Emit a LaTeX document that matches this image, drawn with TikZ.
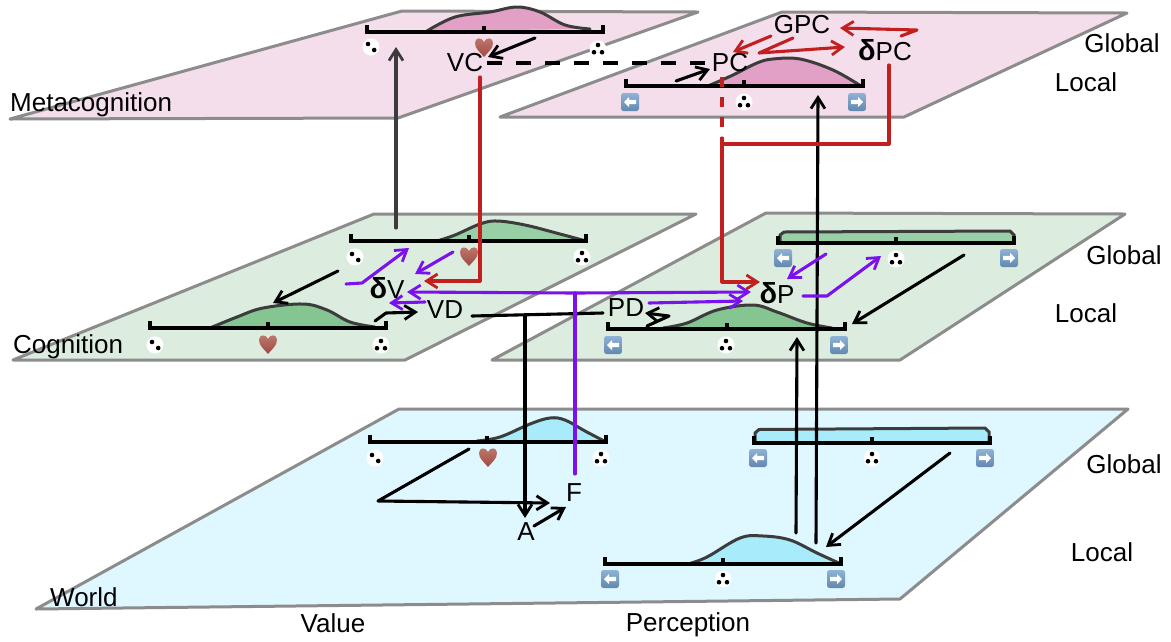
\documentclass[tikz,border=0pt]{standalone}
\usepackage{fontspec}
\setmainfont{Liberation Sans}
\usetikzlibrary{arrows.meta,calc}
\definecolor{pinkplane}{HTML}{F5DEEB}
\definecolor{pinkbump}{HTML}{E3A0C6}
\definecolor{greenplane}{HTML}{DCEDE0}
\definecolor{greenbump}{HTML}{98CFA6}
\definecolor{greenbumpb}{HTML}{85C591}
\definecolor{blueplane}{HTML}{DFF7FF}
\definecolor{bluebump}{HTML}{A8EBFA}
\definecolor{edgegrey}{HTML}{8C8C8C}
\definecolor{redline}{HTML}{C21F1F}
\definecolor{violetline}{HTML}{7B12EE}
\definecolor{curveink}{HTML}{3C3C3C}
\definecolor{hearttop}{HTML}{BE7A6E}
\definecolor{heartbot}{HTML}{A04A42}
\definecolor{btntop}{HTML}{8FB2D6}
\definecolor{btnbot}{HTML}{6288AE}
\newcommand{\deltaglyph}{{\fontsize{29}{30}\selectfont\textbf{δ}}}
\tikzset{
  plane/.style={draw=edgegrey,line width=3pt,line join=round},
  lbl/.style={font=\fontsize{26}{30}\selectfont,inner sep=4pt,text=black},
  tag/.style={font=\fontsize{26}{30}\selectfont,inner sep=0pt,text=black},
  axisink/.style={draw=black,line width=3.2pt},
  curveline/.style={draw=curveink,line width=3pt,line cap=round},
  conn/.style={line width=3.1pt,line cap=round,line join=round,-{Straight Barb[length=11pt,width=14pt,line width=2.8pt]}},
  blk/.style={conn,draw=black},
  red/.style={conn,draw=redline},
  vio/.style={conn,draw=violetline},
  plain/.style={line width=3.1pt,line cap=round,line join=round},
  dicetwo/.pic={\fill[white] (0,0) circle (8.5);\fill[black] (-3,-3) circle (2.3) (3.2,3) circle (2.3);},
  dicethree/.pic={\fill[white] (0,0) circle (8.5);\fill[black] (0,-4) circle (2.3) (-4,3.2) circle (2.3) (4,3.2) circle (2.3);},
  heartpic/.pic={\shade[top color=hearttop,bottom color=heartbot] (0,10) .. controls (-4,5) and (-9,2) .. (-9,-4) .. controls (-9,-10) and (-2,-10) .. (0,-5) .. controls (2,-10) and (9,-10) .. (9,-4) .. controls (9,2) and (4,5) .. (0,10) -- cycle;},
  leftbtn/.pic={\shade[top color=btntop,bottom color=btnbot,rounded corners=2.5pt] (-9,-9) rectangle (9,9);
     \fill[white] (-6,0) -- (-1,-5) -- (-1,-2.2) -- (6,-2.2) -- (6,2.2) -- (-1,2.2) -- (-1,5) -- cycle;},
  rightbtn/.pic={\shade[top color=btntop,bottom color=btnbot,rounded corners=2.5pt] (-9,-9) rectangle (9,9);
     \fill[white] (6,0) -- (1,-5) -- (1,-2.2) -- (-6,-2.2) -- (-6,2.2) -- (1,2.2) -- (1,5) -- cycle;},
}
\newcommand{\scaleaxis}[4]{\draw[axisink] (#1,#4-7) -- (#1,#4) -- (#2,#4) -- (#2,#4-7) (#3,#4-6) -- (#3,#4);}
\newcommand{\bumpshape}[2]{\fill[#1] plot[smooth,tension=.6] coordinates {#2} -- cycle;
  \draw[curveline] plot[smooth,tension=.6] coordinates {#2};}
\begin{document}
\begin{tikzpicture}[x=1pt,y=-1pt]
\useasboundingbox (0,0) rectangle (1171,641);
\fill[white] (0,0) rectangle (1171,641);
% planes
\draw[plane,fill=pinkplane] (10,119) -- (402,11) -- (698,12) -- (398,118) -- cycle;
\draw[plane,fill=pinkplane] (500,117) -- (782,12) -- (1127,13) -- (904,117) -- cycle;
\draw[plane,fill=greenplane] (13,360) -- (374,214) -- (696,214) -- (405,360) -- cycle;
\draw[plane,fill=greenplane] (492,360) -- (766,213) -- (1125,214) -- (900,360) -- cycle;
\draw[plane,fill=blueplane] (36,609) -- (399,409) -- (1128,409) -- (900,599) -- cycle;
% plane names
\node[tag,anchor=west] (metaname) at (10,105) {Metacognition};
\node[tag,anchor=west] (cogname) at (13,347) {Cognition};
\node[tag,anchor=west] (worldname) at (50,597) {World};
\node[tag] (valuename) at (333,623) {Value};
\node[tag] (percname) at (688,625) {Perception};
\node[tag] (g1) at (1122,43) {Global};
\node[tag] (l1) at (1086,82) {Local};
\node[tag] (g2) at (1124,255) {Global};
\node[tag] (l2) at (1086,313) {Local};
\node[tag] (g3) at (1124,464) {Global};
\node[tag] (l3) at (1102,552) {Local};
% bumps
\bumpshape{pinkbump}{(427,31) (455,17) (490,12) (517,7) (540,12) (565,25) (590,29)}
\bumpshape{pinkbump}{(708,86) (733,75) (757,63) (773,59) (800,59) (833,70) (861,86)}
\bumpshape{greenbump}{(437,241) (455,235) (480,224) (497,221) (525,225) (560,234) (586,241)}
\bumpshape{greenbumpb}{(210,328) (237,317) (263,308) (303,304) (327,310) (350,322) (375,327)}
\bumpshape{greenbumpb}{(663,328) (687,323) (717,310) (753,305) (777,312) (807,323) (832,328)}
\bumpshape{bluebump}{(477,441) (500,437) (530,424) (550,418) (565,420) (585,431) (606,442)}
\bumpshape{bluebump}{(688,564) (707,557) (740,538) (763,536) (790,540) (817,553) (841,564)}
\fill[greenbump] (780,243) -- (781,233) -- (1012,232) -- (1014,243) -- cycle;
\draw[curveline] (780,243) -- (780,235) -- (784,232) -- (1010,231) -- (1014,235) -- (1014,243);
\fill[bluebump] (755,443) -- (755,431) -- (986,429) -- (989,443) -- cycle;
\draw[curveline] (755,443) -- (755,433) -- (759,429.5) -- (985,428) -- (989,432) -- (989,443);
% axes
\scaleaxis{367}{603}{484}{32}
\scaleaxis{626}{863}{744}{86}
\scaleaxis{351}{586}{469}{241}
\scaleaxis{150}{386}{268}{328}
\scaleaxis{778}{1014}{896}{243}
\scaleaxis{608}{845}{727}{329}
\scaleaxis{370}{606}{487}{442}
\scaleaxis{754}{990}{872}{443}
\scaleaxis{605}{841}{723}{564}
% icons
\pic at (371,47) {dicetwo}; \pic at (484,47) {heartpic}; \pic at (598,49) {dicethree};
\pic at (630,102) {leftbtn}; \pic at (744,102) {dicethree}; \pic at (857,102) {rightbtn};
\pic at (355,257) {dicetwo}; \pic at (469,256) {heartpic}; \pic at (582,257) {dicethree};
\pic at (155,345) {dicetwo}; \pic at (268,344) {heartpic}; \pic at (381,345) {dicethree};
\pic at (783,258) {leftbtn}; \pic at (896,259) {dicethree}; \pic at (1009,258) {rightbtn};
\pic at (613,345) {leftbtn}; \pic at (726,345) {dicethree}; \pic at (839,345) {rightbtn};
\pic at (375,458) {dicetwo}; \pic at (488,457) {heartpic}; \pic at (601,458) {dicethree};
\pic at (758,458) {leftbtn}; \pic at (872,458) {dicethree}; \pic at (985,458) {rightbtn};
\pic at (610,579) {leftbtn}; \pic at (723,579) {dicethree}; \pic at (836,579) {rightbtn};
% labelled nodes
\node[lbl] (VC) at (465,63) {VC};
\node[lbl] (PC) at (730,63) {PC};
\node[lbl] (GPC) at (802,25) {GPC};
\node[lbl] (dPC) at (885,50) {\deltaglyph PC};
\node[lbl] (dV) at (387,288) {\deltaglyph V};
\node[lbl] (VD) at (445,310) {VD};
\node[lbl] (dP) at (777,293) {\deltaglyph P};
\node[lbl] (PD) at (626,308) {PD};
\node[lbl] (A) at (526,532) {A};
\node[lbl] (F) at (574,493) {F};
% free ends and junctions
\coordinate (metaupS) at (396,228); \coordinate (metaupT) at (396,47);
\coordinate (vcS) at (535,38); \coordinate (pcS) at (676,81);
\coordinate (dashEnd) at (722,138); \coordinate (redJ) at (722,144);
\coordinate (kneeG) at (759,53); \coordinate (kneeD) at (917,30);
\coordinate (cogS) at (338,271); \coordinate (cogT) at (273,303);
\coordinate (vU) at (409,248); \coordinate (kneeV) at (362,283);
\coordinate (vS) at (453,252);
\coordinate (vdS) at (375,321); \coordinate (kneeVD) at (386,313);
\coordinate (violetJ) at (575,293); \coordinate (blackJ) at (525,315);
\coordinate (pdS) at (647,326); \coordinate (kneePD) at (669,316);
\coordinate (pvS) at (826,254); \coordinate (pU) at (881,256); \coordinate (kneeP) at (827,296);
\coordinate (glS) at (964,255); \coordinate (glT) at (852,324);
\coordinate (up1S) at (816,543); \coordinate (up1T) at (818,95);
\coordinate (up2S) at (796,533); \coordinate (up2T) at (797,337);
\coordinate (wS) at (469,449); \coordinate (kneeW) at (378,501);
\coordinate (blS) at (950,453); \coordinate (blT) at (826,547);
% black connectors
\draw[blk,draw=curveink] (metaupS) -- (metaupT);
\draw[blk] (vcS) -- ([shift={(23,-6)}]VC.center);
\draw[blk] (pcS) -- ([shift={(-20,6)}]PC.center);
\draw[line width=3.1pt,dash pattern=on 15pt off 14pt] (VC.east) -- (PC.west);
\draw[blk] (cogS) -- (cogT);
\draw[blk] (vdS) -- (kneeVD) -- ([shift={(-27,2)}]VD.center);
\draw[plain] ([shift={(27,6)}]VD.center) -- ([shift={(-23,5)}]PD.center);
\draw[blk] (blackJ) -- ([shift={(-1,-14)}]A.center);
\draw[blk] (wS) -- (kneeW) -- ([shift={(-24,10)}]F.center);
\draw[blk] ([shift={(8,-6)}]A.center) -- ([shift={(-8,14)}]F.center);
\draw[blk] (pdS) -- (kneePD) -- ([shift={(19,5)}]PD.center);
\draw[blk] (glS) -- (glT);
\draw[blk] (blS) -- (blT);
\draw[blk] (up1S) -- (up1T);
\draw[blk] (up2S) -- (up2T);
% red connectors
\draw[red] ([shift={(15,14)}]VC.center) |- ([shift={(37,-7)}]dV.center);
\draw[line width=3.1pt,draw=redline,dash pattern=on 10pt off 10pt] ([shift={(-8,14)}]PC.center) -- (dashEnd);
\draw[red] (dashEnd) |- ([shift={(-17,-11)}]dP.center);
\draw[plain,draw=redline] ([shift={(4,15)}]dPC.center) |- (redJ);
\draw[red] ([shift={(-31,11)}]GPC.center) -- ([shift={(3,-11)}]PC.center);
\draw[red] ([shift={(-9,13)}]GPC.center) -- (kneeG) -- ([shift={(-40,-3)}]dPC.center);
\draw[red] ([shift={(16,-14)}]dPC.center) -- (kneeD) -- ([shift={(38,3)}]GPC.center);
% violet connectors
\draw[vio] ([shift={(-41,-4)}]dV.center) -- (kneeV) -- (vU);
\draw[vio] (vS) -- ([shift={(28,-14)}]dV.center);
\draw[vio] ([shift={(-20,-8)}]VD.center) -- ([shift={(2,15)}]dV.center);
\draw[vio] (violetJ) -- ([shift={(20,4)}]dV.center);
\draw[vio] (violetJ) -- ([shift={(-26,-1)}]dP.center);
\draw[plain,draw=violetline] ([shift={(1,-19)}]F.center) -- (violetJ);
\draw[vio] ([shift={(23,-5)}]PD.center) -- ([shift={(-34,8)}]dP.center);
\draw[vio] (pvS) -- ([shift={(10,-14)}]dP.center);
\draw[vio] ([shift={(26,3)}]dP.center) -- (kneeP) -- (pU);
\end{tikzpicture}
\end{document}
